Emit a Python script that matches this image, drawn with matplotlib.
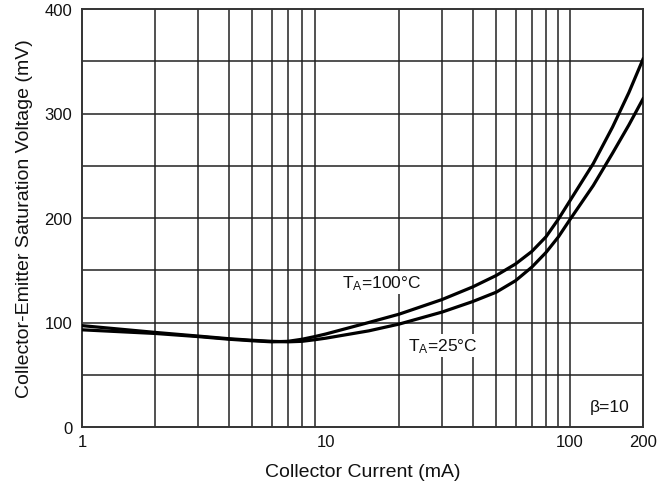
import matplotlib
matplotlib.use("Agg")
import matplotlib.pyplot as plt

plt.rcParams['font.family'] = ['Liberation Sans', 'DejaVu Sans']
plt.rcParams['mathtext.default'] = 'regular'

current_ma = [1, 2, 3, 4, 5, 6, 7, 8, 9, 10, 15, 20, 30, 40, 50, 60, 70, 80, 90, 100, 125, 150, 175, 200]
vce_25c = [97, 90.5, 87, 84.5, 83, 82, 81.5, 82, 83.5, 85, 92, 98.5, 110, 120, 129, 140, 153, 167, 182, 198, 231, 262, 289, 314]
vce_100c = [93, 89.5, 86.5, 84, 82.5, 81.5, 82, 84, 86.5, 89, 100, 108, 122, 134, 145, 156, 168, 182, 199, 216, 252, 287, 320, 352]

x_ticks = [1, 10, 100, 200]
x_grid = [2, 3, 4, 5, 6, 7, 8, 9, 20, 30, 40, 50, 60, 70, 80, 90, 100]
y_ticks = [0, 100, 200, 300, 400]
y_grid = [50, 100, 150, 200, 250, 300, 350]

fig = plt.figure(figsize=(6.6, 4.89), dpi=100)
ax = fig.add_axes([82/660, 1-428/489, (643-82)/660, (428-10)/489])
ax.set_xscale('log')
ax.set_xlim(1, 200)
ax.set_ylim(0, 400)

for g in x_grid:
    ax.axvline(g, color='#222222', lw=1.1, zorder=1)
for g in y_grid:
    ax.axhline(g, color='#222222', lw=1.1, zorder=1)

ax.plot(current_ma, vce_25c, color='black', lw=2.3, zorder=3)
ax.plot(current_ma, vce_100c, color='black', lw=2.3, zorder=3)

ax.set_xticks(x_ticks)
ax.set_xticklabels([str(v) for v in x_ticks])
ax.xaxis.set_minor_locator(matplotlib.ticker.NullLocator())
ax.set_yticks(y_ticks)
ax.tick_params(axis='y', length=0, labelsize=12, pad=7, colors='#111111')
ax.tick_params(axis='x', length=0, labelsize=12, pad=5, colors='#111111')
for s in ax.spines.values():
    s.set_color('#333333')
    s.set_linewidth(1.4)

ax.set_xlabel('Collector Current (mA)', fontsize=14, labelpad=10, color='#111111')
ax.set_ylabel('Collector-Emitter Saturation Voltage (mV)', fontsize=14, labelpad=8, color='#111111')

bb = dict(facecolor='white', edgecolor='none', pad=1.5)
ax.text(17, 138.5, r'$T_A$=100°C', fontsize=12.5, ha='center', va='center', bbox=bb, zorder=4, color='#111111')
ax.text(30.3, 78, r'$T_A$=25°C', fontsize=12.5, ha='center', va='center', bbox=bb, zorder=4, color='#111111')
ax.text(146, 20, 'β=10', fontsize=12.5, ha='center', va='center', bbox=bb, zorder=4, color='#111111')

fig.savefig('out.png', dpi=100)
